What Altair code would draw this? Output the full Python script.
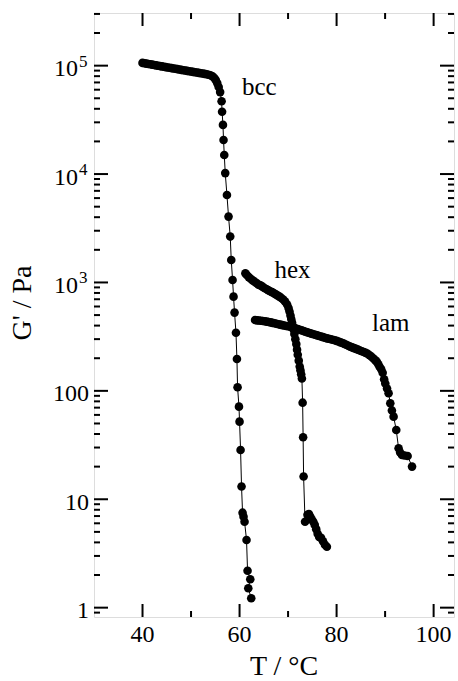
import math
import altair as alt
import pandas as pd

# ---- data ----
bcc_T = [40.0, 40.4, 40.8, 41.2, 41.6, 42.0, 42.4, 42.8, 43.2, 43.6, 44.0, 44.4, 44.8, 45.2, 45.6,
         46.0, 46.4, 46.8, 47.2, 47.6, 48.0, 48.4, 48.8, 49.2, 49.6, 50.0, 50.4, 50.8, 51.2, 51.6,
         52.0, 52.4, 52.8, 53.2, 53.6, 54.0, 54.4, 54.8, 55.1, 55.4, 55.7, 56.0, 56.3, 56.4, 56.58,
         56.70, 56.85, 57.05, 57.40, 57.73, 58.08, 58.29, 58.56, 58.76, 58.97, 59.26, 59.46, 59.59,
         59.88, 60.0, 60.21, 60.41, 60.62, 60.82, 61.03, 61.44, 61.65, 62.21, 61.8, 62.41]
bcc_G = [106000, 105200, 104400, 103600, 102900, 102100, 101300, 100600, 99900, 99100, 98400,
         97700, 97000, 96300, 95600, 94900, 94200, 93500, 92800, 92100, 91400, 90800, 90100, 89500,
         88800, 88200, 87600, 87000, 86400, 85800, 85200, 84600, 84000, 83300, 82500, 81500, 79800,
         77000, 73500, 69000, 63500, 57000, 47000, 37600, 28400, 20600, 15000, 10200, 6410, 4050,
         2650, 1610, 1055, 740, 527, 344, 197, 108, 71.5, 52, 28.5, 13.1, 7.52, 6.91, 6.21, 4.21,
         2.19, 1.83, 1.51, 1.22]

hex_T = [61.2, 61.5, 61.9, 62.3, 62.7, 63.1, 63.5, 63.9, 64.3, 64.7, 65.1, 65.5, 65.9, 66.3, 66.7,
         67.0, 67.4, 67.8, 68.2, 68.6, 69.0, 69.4, 69.8, 70.1, 70.3, 70.5, 70.65, 70.8, 70.95, 71.1,
         71.3, 71.5, 71.7, 71.85, 72.0, 72.2, 72.4, 72.55, 72.7, 72.85, 73.0, 73.1, 73.2, 73.5, 74.0,
         74.3, 74.6, 74.9, 75.2, 75.5, 75.8, 76.1, 76.4, 76.8, 77.2, 77.6, 78.0]
hex_G = [1217, 1170, 1120, 1080, 1045, 1015, 985, 955, 940, 915, 890, 870, 850, 830, 815, 800, 780,
         760, 740, 720, 695, 665, 625, 580, 540, 495, 460, 430, 400, 370, 335, 300, 270, 240, 215,
         190, 168, 155, 142, 130, 77.8, 37.3, 16.2, 6.2, 7.2, 7.3, 6.9, 6.5, 6.2, 5.8, 5.3, 4.8, 4.5,
         4.4, 4.1, 3.8, 3.65]

lam_T = [63.2, 63.6, 64.0, 64.4, 64.8, 65.2, 65.6, 66.0, 66.4, 66.8, 67.2, 67.6, 68.0, 68.4, 68.8,
         69.2, 69.6, 70.0, 70.4, 70.8, 71.2, 71.6, 72.0, 72.4, 72.8, 73.2, 73.6, 74.0, 74.4, 74.8,
         75.2, 75.6, 76.0, 76.4, 76.8, 77.2, 77.6, 78.0, 78.4, 78.8, 79.2, 79.6, 80.0, 80.4, 80.8,
         81.2, 81.6, 82.0, 82.4, 82.8, 83.2, 83.6, 84.0, 84.4, 84.8, 85.2, 85.6, 86.0, 86.4, 86.8,
         87.2, 87.6, 88.0, 88.3, 88.6, 88.9, 89.2, 89.5, 89.8, 90.04, 90.4, 90.72, 91.07, 91.4,
         91.75, 92.3, 92.78, 93.1, 93.48, 94.0, 94.64, 95.55]
lam_G = [451, 447, 445, 443, 441, 438, 435, 432, 428, 424, 420, 416, 412, 408, 404, 401, 397, 394,
         391, 386, 381, 376, 371, 366, 361, 356, 351, 346, 342, 337, 333, 329, 325, 321, 317, 313,
         309, 305, 302, 299, 296, 293, 289, 285, 280, 276, 271, 266, 261, 256, 252, 248, 244, 240,
         236, 232, 228, 224, 220, 213, 206, 199, 191, 185, 176, 166, 158, 147, 128, 117, 105, 95,
         76.9, 66, 57.8, 43.6, 29.5, 27, 25.6, 25.3, 25.1, 20.0]

label_text = ["bcc", "hex", "lam"]
label_T = [60.5, 67.2, 87.3]
label_G = [53700, 1100, 357]

x_major = [40, 60, 80, 100]
x_major_text = ["40", "60", "80", "100"]
x_minor = [50, 70, 90]
y_plain = [1, 10, 100]
y_plain_text = ["1", "10", "100"]
y_power = [1000, 10000, 100000]
y_power_base = ["10", "10", "10"]
y_power_exp = ["3", "4", "5"]
y_minor_mult = [2, 3, 4, 5, 6, 7, 8, 9]

x_title = "T / \u00b0C"
y_title = "G' / Pa"

W, H = 360, 604
x_dom = [30, 104.2]
y_dom = [0.82, 3.06e5]

# ---- tables ----
rows = []
for name, T, G in (("bcc", bcc_T, bcc_G), ("hex", hex_T, hex_G), ("lam", lam_T, lam_G)):
    for i, (t, g) in enumerate(zip(T, G)):
        rows.append({"phase": name, "idx": i, "T": t, "G": g})
df = pd.DataFrame(rows)
labels = pd.DataFrame({"text": label_text, "T": label_T, "G": label_G})

y_major = y_plain + y_power
y_minor = [0.9] + [m * d for d in y_major for m in y_minor_mult if m * d < y_dom[1]]

# inward tick segments (length in pixels converted through the scale domains)
px_T = (x_dom[1] - x_dom[0]) / W                       # degrees per pixel
px_logG = math.log10(y_dom[1] / y_dom[0]) / H          # decades per pixel
seg_rows = []
sid = 0
for vals, L in ((y_major, 14), (y_minor, 6)):
    for v in vals:
        for t0, t1 in ((x_dom[0], x_dom[0] + L * px_T), (x_dom[1], x_dom[1] - L * px_T)):
            seg_rows += [{"seg": sid, "T": t0, "G": v}, {"seg": sid, "T": t1, "G": v}]
            sid += 1
for vals, L in ((x_major, 13), (x_minor, 6)):
    for v in vals:
        for g0, g1 in ((y_dom[0], y_dom[0] * 10 ** (L * px_logG)),
                       (y_dom[1], y_dom[1] / 10 ** (L * px_logG))):
            seg_rows += [{"seg": sid, "T": v, "G": g0}, {"seg": sid, "T": v, "G": g1}]
            sid += 1
seg_df = pd.DataFrame(seg_rows)

xmaj_df = pd.DataFrame({"xv": x_major, "text": x_major_text})
yplain_df = pd.DataFrame({"yv": y_plain, "text": y_plain_text})
ypow_df = pd.DataFrame({"yv": y_power, "base": y_power_base, "exp": y_power_exp})

FONT = "Liberation Serif"
xscale = alt.Scale(domain=x_dom, nice=False, zero=False)
yscale = alt.Scale(type="log", domain=y_dom, nice=False)

X = alt.X("T:Q", scale=xscale, axis=None)
Y = alt.Y("G:Q", scale=yscale, axis=None)
XV = alt.X("xv:Q", scale=xscale, axis=None)
YV = alt.Y("yv:Q", scale=yscale, axis=None)

base = alt.Chart(df)
lines = base.mark_line(color="black", strokeWidth=1).encode(
    x=X, y=Y, detail="phase:N", order="idx:Q")
points = base.mark_circle(color="black", opacity=1, size=74).encode(x=X, y=Y)

texts = alt.Chart(labels).mark_text(font=FONT, fontSize=25, align="left",
                                    baseline="alphabetic", color="black").encode(
    x=X, y=Y, text="text:N")

ticks = alt.Chart(seg_df).mark_line(color="black", strokeWidth=2, strokeCap="butt").encode(
    x=X, y=Y, detail="seg:N")

# tick labels
xlab = alt.Chart(xmaj_df).mark_text(font=FONT, fontSize=24, align="center",
                                    baseline="alphabetic", color="black").encode(
    x=XV, y=alt.value(H + 25), text="text:N")
ylab_plain = alt.Chart(yplain_df).mark_text(font=FONT, fontSize=24, align="right",
                                            baseline="alphabetic", dy=10.5,
                                            color="black").encode(
    y=YV, x=alt.value(-5), text="text:N")
ylab_base = alt.Chart(ypow_df).mark_text(font=FONT, fontSize=24, align="right",
                                         baseline="alphabetic", dy=10.5,
                                         color="black").encode(
    y=YV, x=alt.value(-16), text="base:N")
ylab_exp = alt.Chart(ypow_df).mark_text(font=FONT, fontSize=17, align="left",
                                        baseline="alphabetic", dy=1,
                                        color="black").encode(
    y=YV, x=alt.value(-15), text="exp:N")

# axis titles
title_df = pd.DataFrame({"xt": [x_title], "yt": [y_title]})
xtitle = alt.Chart(title_df).mark_text(font=FONT, fontSize=28, align="center",
                                       baseline="alphabetic", color="black").encode(
    x=alt.value(190), y=alt.value(662), text="xt:N")
ytitle = alt.Chart(title_df).mark_text(font=FONT, fontSize=28, align="center",
                                       baseline="alphabetic", angle=270,
                                       color="black").encode(
    x=alt.value(-63), y=alt.value(290), text="yt:N")

layers = [ticks, lines, points, texts, xlab, ylab_plain, ylab_base, ylab_exp, xtitle, ytitle]

chart = alt.layer(*layers).properties(
    width=W, height=H,
    autosize=alt.AutoSizeParams(type="none"),
    padding={"left": 94, "top": 13, "right": 4, "bottom": 64},
).configure_view(stroke="black", strokeWidth=2).configure(background="white")

chart.save("out.html", embed_options={"renderer": "svg", "actions": False})
